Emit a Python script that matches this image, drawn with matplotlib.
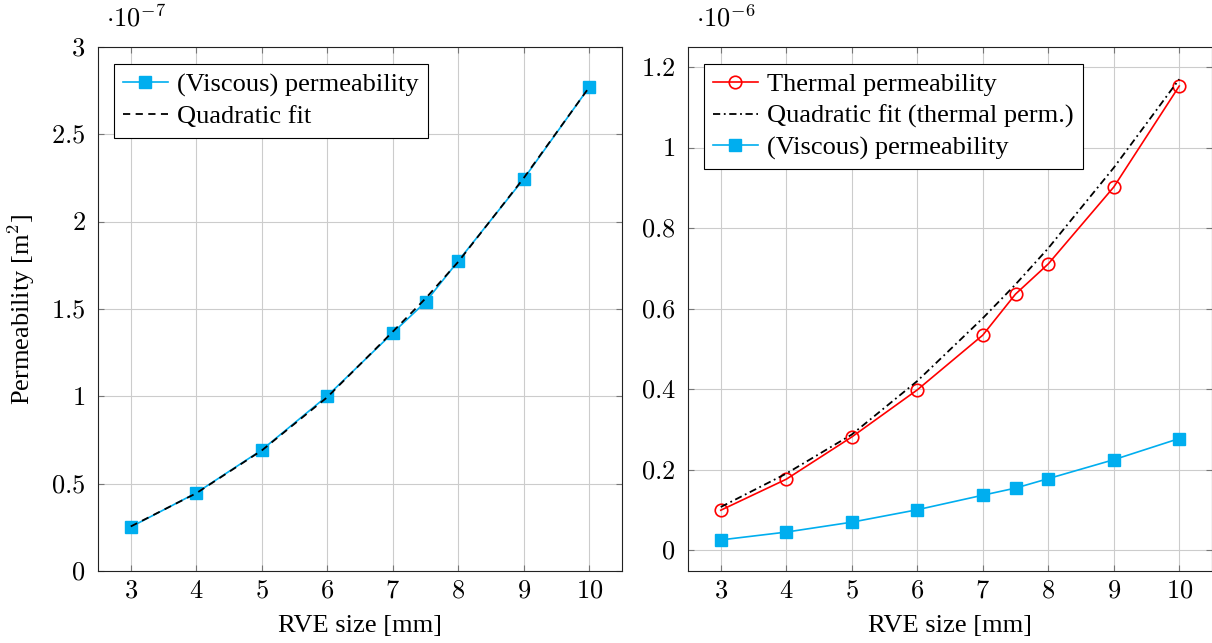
import matplotlib
matplotlib.use("Agg")
import matplotlib.pyplot as plt

# ==== data ====
rve_size = [3, 4, 5, 6, 7, 7.5, 8, 9, 10]

# left panel, units of 1e-7 m^2
viscous_e7 = [0.252, 0.447, 0.693, 1.002, 1.363, 1.54, 1.775, 2.245, 2.771]
viscous_fit_e7 = [0.255, 0.445, 0.69, 0.995, 1.37, 1.56, 1.77, 2.25, 2.77]

# right panel, units of 1e-6 m^2
thermal_e6 = [0.099, 0.176, 0.281, 0.398, 0.534, 0.636, 0.711, 0.902, 1.153]
thermal_fit_e6 = [0.107, 0.19, 0.287, 0.42, 0.576, 0.66, 0.75, 0.95, 1.17]
viscous_e6 = [v / 10 for v in viscous_e7]

x_ticks = [3, 4, 5, 6, 7, 8, 9, 10]
left_yticks = [0, 0.5, 1, 1.5, 2, 2.5, 3]
left_ylabels = ["0", "0.5", "1", "1.5", "2", "2.5", "3"]
right_yticks = [0, 0.2, 0.4, 0.6, 0.8, 1.0, 1.2]
right_ylabels = ["0", "0.2", "0.4", "0.6", "0.8", "1", "1.2"]

CYAN = "#00AEEF"
RED = "#FF0000"
FS = 19

plt.rcParams["font.family"] = ["Liberation Serif", "DejaVu Serif"]
plt.rcParams["mathtext.fontset"] = "cm"


def style_axes(ax, yticks, ylabels, ylim):
    ax.set_xlim(2.5, 10.5)
    ax.set_ylim(*ylim)
    ax.set_xticks(x_ticks)
    ax.set_xticklabels([f"${t}$" for t in x_ticks], fontsize=FS)
    ax.set_yticks(yticks)
    ax.set_yticklabels([f"${t}$" for t in ylabels], fontsize=FS)
    ax.tick_params(direction="in", length=4, width=0.8, color="#777777",
                   top=True, right=True)
    ax.tick_params(axis="y", pad=9)
    ax.tick_params(axis="x", pad=7)
    ax.grid(True, color="#cccccc", lw=0.8)
    ax.set_axisbelow(True)
    for s in ax.spines.values():
        s.set_linewidth(0.8)
        s.set_color("#222222")
    ax.set_xlabel("RVE size [mm]", fontsize=FS, labelpad=9)


def add_legend(ax):
    leg = ax.legend(loc="upper left", bbox_to_anchor=(0.03, 0.968), fontsize=FS,
                    fancybox=False, edgecolor="black", framealpha=1,
                    handlelength=1.7, borderpad=0.35, labelspacing=0.3,
                    handletextpad=0.35, borderaxespad=0)
    leg.get_frame().set_linewidth(0.8)


fig = plt.figure(figsize=(12.12, 6.43), dpi=100)
ax1 = fig.add_axes([98 / 1212, 1 - 571 / 643, 524 / 1212, 524 / 643])
ax2 = fig.add_axes([688 / 1212, 1 - 571 / 643, 524 / 1212, 524 / 643])

# ---- left: viscous permeability ----
ax1.plot(rve_size, viscous_e7, color=CYAN, lw=1.2, marker="s", ms=9,
         label="(Viscous) permeability")
ax1.plot(rve_size, viscous_fit_e7, color="black", lw=1.3, ls=(0, (4, 3)),
         label="Quadratic fit")
style_axes(ax1, left_yticks, left_ylabels, (0, 3))
ax1.set_ylabel("Permeability [m$^2$]", fontsize=FS, labelpad=10)
ax1.text(0.015, 1.03, r"$\cdot10^{-7}$", transform=ax1.transAxes, fontsize=FS,
         va="bottom", ha="left")
add_legend(ax1)

# ---- right: thermal vs viscous ----
ax2.plot(rve_size, thermal_e6, color=RED, lw=1.2, marker="o", ms=9, mfc="none",
         mew=1.2, label="Thermal permeability")
ax2.plot(rve_size, thermal_fit_e6, color="black", lw=1.3, ls=(0, (4, 2, 1, 2)),
         label="Quadratic fit (thermal perm.)")
ax2.plot(rve_size, viscous_e6, color=CYAN, lw=1.2, marker="s", ms=9,
         label="(Viscous) permeability")
style_axes(ax2, right_yticks, right_ylabels, (-0.052, 1.25))
ax2.text(0.015, 1.03, r"$\cdot10^{-6}$", transform=ax2.transAxes, fontsize=FS,
         va="bottom", ha="left")
add_legend(ax2)

fig.savefig("out.png", dpi=100)
